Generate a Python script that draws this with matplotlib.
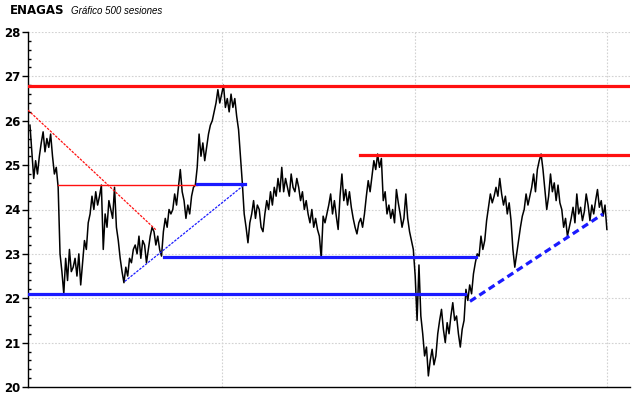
import numpy as np
import matplotlib.pyplot as plt
from matplotlib.ticker import MultipleLocator

prices = [
    25.9, 25.3, 24.7, 25.1, 24.8,
    25.2, 25.5, 25.75, 25.3, 25.6, 25.4, 25.7,
    25.2, 24.8, 24.95, 24.5,
    23.0, 22.6, 22.1,
    22.9, 22.4, 23.1, 22.6, 22.7, 22.9, 22.5, 23.0,
    22.3,
    22.8, 23.3, 23.1, 23.7, 23.9, 24.3,
    24.0, 24.4, 24.1, 24.3, 24.55,
    23.1,
    23.9, 23.6, 24.2,
    24.0, 23.8, 24.5,
    23.6, 23.3, 22.9, 22.6, 22.35,
    22.7, 22.5, 22.9, 22.8, 23.1, 23.2, 23.0,
    23.4, 22.9, 23.3, 23.2, 22.8, 23.1,
    23.4, 23.6, 23.5,
    23.2, 23.4, 23.1, 22.95,
    23.5, 23.8, 23.6, 24.0, 23.9, 24.0, 24.35, 24.1,
    24.5, 24.9, 24.4,
    24.2, 23.8, 24.1, 23.9, 24.3,
    24.5, 24.55,
    24.95, 25.7, 25.2, 25.5, 25.1, 25.4,
    25.7, 25.9, 26.0,
    26.2, 26.4,
    26.7, 26.4, 26.6, 26.8,
    26.3, 26.5, 26.2,
    26.6, 26.3, 26.5, 26.1,
    25.8, 25.2,
    24.6,
    23.9, 23.6,
    23.25,
    23.7, 23.9, 24.2, 23.8, 24.1, 24.0, 23.6, 23.5,
    23.9, 24.2, 24.0, 24.4, 24.1,
    24.5, 24.3, 24.7, 24.4, 24.95,
    24.4, 24.7, 24.5, 24.3, 24.8, 24.5, 24.4, 24.7, 24.5,
    24.2, 24.4, 24.0, 24.2, 23.9,
    23.7, 24.0, 23.6, 23.8, 23.55,
    23.4, 22.9,
    23.85, 23.7, 23.9,
    24.1, 24.35, 23.9, 24.2, 23.85,
    23.55,
    24.3, 24.8,
    24.2, 24.45, 24.1, 24.4, 24.05,
    23.8, 23.6, 23.45, 23.7,
    23.8, 23.6, 23.9,
    24.3, 24.65, 24.4,
    24.75, 25.1, 24.9,
    25.25, 24.95, 25.15,
    24.2, 24.4, 23.9,
    24.1, 23.8, 24.0, 23.7,
    24.45, 24.15,
    23.9, 23.6, 23.8,
    24.35,
    23.8, 23.5, 23.3, 23.1,
    22.5, 21.5, 22.75,
    21.6, 21.2, 20.7,
    20.9, 20.25, 20.6,
    20.85, 20.5, 20.7,
    21.2, 21.5, 21.75, 21.3,
    21.0, 21.45, 21.2,
    21.6, 21.9, 21.5,
    21.6, 21.2, 20.9,
    21.3, 21.5, 22.2, 21.95,
    22.3, 22.1, 22.55, 22.8, 23.0,
    22.95, 23.4, 23.1, 23.3,
    23.75, 24.05,
    24.35, 24.15, 24.3,
    24.5, 24.3, 24.7,
    24.35, 24.1, 24.3,
    23.9, 24.15, 23.75,
    23.1, 22.7, 23.0,
    23.3, 23.6, 23.85,
    24.0, 24.35, 24.1, 24.3,
    24.5, 24.8, 24.4,
    24.9, 25.1, 25.25, 24.9,
    24.45, 24.0, 24.3,
    24.8, 24.4, 24.6,
    24.2, 24.55, 24.15,
    24.0, 23.6,
    23.8, 23.4, 23.6,
    23.8, 24.05, 23.7,
    24.35, 23.9,
    24.05, 23.75, 23.95,
    24.35, 24.1,
    23.75, 24.1, 23.9,
    24.2, 24.45, 24.05,
    24.2, 23.85,
    24.1, 23.55,
]
sessions = np.linspace(0, 499, len(prices))

x_left, x_right = -1.7, 519
year_marks = [166, 333, 499]

# soportes / resistencias: (sesion inicio, sesion fin, nivel)
red_levels = [(x_left, x_right, 26.78), (285.5, x_right, 25.22)]
red_thin_level = (24.2, 144.5, 24.55)
blue_levels = [(144.5, 186, 24.57), (116, 386, 22.94), (x_left, 376, 22.09)]
# lineas de tendencia: ((s0, p0), (s1, p1))
red_trend = ((x_left, 26.24), (109, 23.54))
blue_trend_thin = ((82, 22.38), (186, 24.57))
blue_trend_dash = ((380.6, 21.93), (495.7, 23.9))

fig = plt.figure(figsize=(6.4, 3.98), dpi=100)
ax = fig.add_axes([28 / 640, 1 - 387 / 398, 602 / 640, 355 / 398])

for lv in range(21, 29):
    ax.axhline(lv, color='#d2d2d2', lw=0.8, ls=(0, (1.5, 1.5)), zorder=0)
for xm in year_marks:
    ax.axvline(xm, color='#d2d2d2', lw=0.8, ls=(0, (1.5, 1.5)), zorder=0)

ax.plot(sessions, prices, color='black', lw=1.1, zorder=2)

for s0, s1, lv in red_levels:
    ax.plot([s0, s1], [lv, lv], color='#ff1010', lw=2.3, zorder=3)
s0, s1, lv = red_thin_level
ax.plot([s0, s1], [lv, lv], color='#ff1010', lw=1.0, zorder=3)
for s0, s1, lv in blue_levels:
    ax.plot([s0, s1], [lv, lv], color='#1a1aff', lw=2.3, zorder=3)

(a0, b0), (a1, b1) = red_trend
ax.plot([a0, a1], [b0, b1], color='#ff1010', lw=0.9, ls=(0, (2, 1)), zorder=3)
(a0, b0), (a1, b1) = blue_trend_thin
ax.plot([a0, a1], [b0, b1], color='#1a1aff', lw=0.9, ls=(0, (2, 1)), zorder=3)
(a0, b0), (a1, b1) = blue_trend_dash
ax.plot([a0, a1], [b0, b1], color='#1a1aff', lw=2.3, ls=(0, (2.2, 1.3)), zorder=3)

ax.set_xlim(x_left, x_right)
ax.set_ylim(20, 28)
ax.spines['top'].set_visible(False)
ax.spines['right'].set_visible(False)
ax.spines['left'].set_linewidth(1.0)
ax.spines['bottom'].set_linewidth(1.0)
ax.set_xticks([])
ax.yaxis.set_major_locator(MultipleLocator(1))
ax.yaxis.set_minor_locator(MultipleLocator(0.2))
ax.tick_params(axis='y', which='major', direction='out', length=4, width=1,
               pad=1.5, labelsize=8.5)
ax.tick_params(axis='y', which='minor', direction='in', length=2.5, width=1)
for lab in ax.get_yticklabels():
    lab.set_fontweight('bold')

fig.text(10 / 640, 1 - 11 / 398, 'ENAGAS', fontsize=8.5, fontweight='bold',
         va='center', ha='left')
fig.text(71 / 640, 1 - 11 / 398, 'Gráfico 500 sesiones', fontsize=7,
         fontstyle='italic', family='Liberation Sans', va='center', ha='left')

fig.savefig('out.png', dpi=100)
